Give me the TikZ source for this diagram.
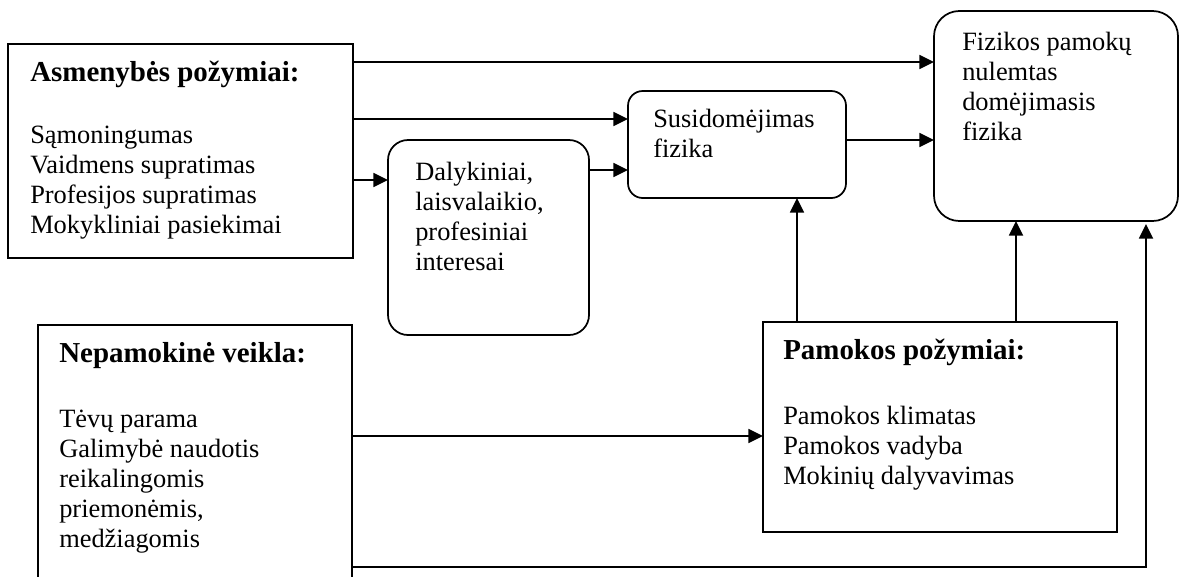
\documentclass[tikz,border=0pt]{standalone}
\usepackage{fontspec}
\setmainfont{Liberation Serif}
\usetikzlibrary{arrows.meta,calc}
\newcommand{\ttl}[1]{{\fontsize{21.7}{22.5}\selectfont\bfseries #1}}
\begin{document}
\begin{tikzpicture}[x=0.75pt,y=-0.75pt,
  box/.style={draw,line width=1.3pt,rectangle,inner sep=0pt,outer sep=0pt},
  rbox/.style={box,rounded corners=#1},
  txt/.style={anchor=north west,align=left,inner sep=0pt,font=\fontsize{19.8}{22.5}\selectfont,execute at begin node=\strut},
  arr/.style={line width=1.3pt,-{Triangle[length=11pt,width=10.5pt]}}]
\useasboundingbox (0,0) rectangle (1180,576);
\clip (0,0) rectangle (1180,576);
% boxes
\node[box,minimum width=258.75pt,minimum height=160.5pt] (A) at (180.5,151) {};
\node[rbox=15pt,minimum width=150.75pt,minimum height=146.25pt] (D) at (488.5,237.5) {};
\node[rbox=11pt,minimum width=163.5pt,minimum height=80.25pt] (S) at (737,144.5) {};
\node[rbox=19pt,minimum width=183pt,minimum height=157.5pt] (F) at (1056,116) {};
\node[box,minimum width=265.5pt,minimum height=157.5pt] (P) at (940,427) {};
\node[box,minimum width=235.5pt,minimum height=221.25pt] (N) at (195,472.5) {};
% texts (first baseline = y + 21)
\node[txt] (At) at (30,61) {\ttl{Asmenybės požymiai:}\\[24pt]Sąmoningumas\\Vaidmens supratimas\\Profesijos supratimas\\Mokykliniai pasiekimai};
\node[txt] (Dt) at (415,162) {Dalykiniai,\\laisvalaikio,\\profesiniai\\interesai};
\node[txt] (St) at (653,109) {Susidomėjimas\\fizika};
\node[txt] (Ft) at (962,32) {Fizikos pamokų\\nulemtas\\domėjimasis\\fizika};
\node[txt] (Nt) at (59,342) {\ttl{Nepamokinė veikla:}\\[26.25pt]Tėvų parama\\Galimybė naudotis\\reikalingomis\\priemonėmis,\\medžiagomis};
\node[txt] (Pt) at (783,339) {\ttl{Pamokos požymiai:}\\[26.25pt]Pamokos klimatas\\Pamokos vadyba\\Mokinių dalyvavimas};
% connectors
\draw[arr] (A.east |- 0,62) -- (F.west |- 0,62);
\draw[arr] (A.east |- 0,119) -- (S.west |- 0,119);
\draw[arr] (A.east |- 0,180) -- (D.west |- 0,180);
\draw[arr] (D.east |- 0,170) -- (S.west |- 0,170);
\draw[arr] (S.east |- 0,140) -- (F.west |- 0,140);
\draw[arr] (P.north -| 797,0) -- (S.south -| 797,0);
\draw[arr] (P.north -| 1016,0) -- (F.south -| 1016,0);
\draw[arr] (N.east |- 0,436) -- (P.west |- 0,436);
\draw[arr] (N.east |- 0,567) -| ($(F.south -| 1146,0)+(0,3)$);
\end{tikzpicture}
\end{document}
